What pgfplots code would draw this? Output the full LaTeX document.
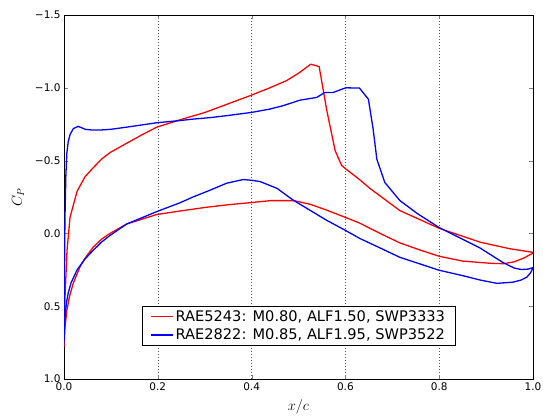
\documentclass[border=0pt]{standalone}
\usepackage{pgfplots}
\pgfplotsset{compat=1.18}
\usepackage{fontspec}
\setmainfont{DejaVu Sans}
\begin{document}
\begin{tikzpicture}
\useasboundingbox (-64pt,-37pt) rectangle (479pt,379pt);
\begin{axis}[
  scale only axis,
  width=469pt, height=364pt,
  xmin=0, xmax=1, ymin=-1.5, ymax=1.0,
  y dir=reverse,
  axis line style={line width=0.8pt},
  xtick={0,0.2,0.4,0.6,0.8,1.0},
  xticklabels={0.0,0.2,0.4,0.6,0.8,1.0},
  ytick={-1.5,-1.0,-0.5,0,0.5,1.0},
  yticklabels={−1.5,−1.0,−0.5,0.0,0.5,1.0},
  tick label style={font=\fontsize{10.5}{12}\selectfont},
  tick align=inside,
  major tick length=4pt,
  xmajorgrids,
  grid style={dash pattern=on 0.7pt off 2.3pt, black!65, line width=0.6pt},
  xlabel={$x/c$},
  ylabel={$C_P$},
  xlabel style={font=\fontsize{14}{16}\selectfont, at={(axis description cs:0.5,-0.077)}, anchor=center},
  ylabel style={font=\fontsize{14}{16}\selectfont, at={(axis description cs:-0.098,0.5)}, anchor=center},
  legend style={at={(axis description cs:0.5,0.093)}, anchor=south, draw=black, fill=white,
    font=\fontsize{14.6}{17}\selectfont, row sep=2pt, inner xsep=8pt, inner ysep=2pt,
    /tikz/every even column/.append style={column sep=9pt}},
  legend cell align=left,
  legend image code/.code={\draw[#1] (0pt,0pt) -- (22pt,0pt);},
]
\addlegendimage{draw=red, line width=1.6pt}
\addlegendentry{RAE5243: M0.80, ALF1.50, SWP3333}
\addlegendimage{draw=blue, line width=1.6pt}
\addlegendentry{RAE2822: M0.85, ALF1.95, SWP3522}
\addplot[red, line width=1.3pt, forget plot] coordinates {
(1.0,0.13) (0.95,0.105) (0.887,0.06) (0.80,-0.035) (0.716,-0.157) (0.652,-0.31) (0.63,-0.37) (0.60,-0.445)
(0.592,-0.466) (0.578,-0.57) (0.56,-0.85) (0.544,-1.146) (0.526,-1.162) (0.50,-1.10) (0.475,-1.05)
(0.439,-1.0) (0.40,-0.95) (0.35,-0.89) (0.30,-0.83) (0.247,-0.78) (0.198,-0.73) (0.165,-0.675)
(0.134,-0.62) (0.098,-0.555) (0.08,-0.51) (0.062,-0.45) (0.045,-0.39) (0.028,-0.29) (0.0128,-0.11)
(0.0064,0.12) (0.002,0.45) (0.0,0.78)
(0.002,0.65) (0.006,0.53) (0.012,0.43) (0.02,0.34) (0.034,0.23) (0.045,0.17) (0.062,0.095)
(0.08,0.04) (0.098,0.0) (0.134,-0.065) (0.198,-0.13) (0.25,-0.155) (0.30,-0.178) (0.35,-0.197)
(0.40,-0.212) (0.44,-0.225) (0.49,-0.225) (0.525,-0.2) (0.56,-0.16) (0.596,-0.115) (0.631,-0.07)
(0.674,0.0) (0.716,0.065) (0.76,0.115) (0.80,0.157) (0.85,0.19) (0.908,0.205) (0.937,0.208)
(0.96,0.195) (0.98,0.17) (1.0,0.135)
};
\addplot[blue, line width=1.3pt, forget plot] coordinates {
(1.0,0.235) (0.99,0.245) (0.975,0.248) (0.96,0.238) (0.936,0.2) (0.887,0.10) (0.80,-0.04) (0.753,-0.137)
(0.716,-0.226) (0.684,-0.35) (0.667,-0.51) (0.659,-0.72) (0.649,-0.922) (0.630,-0.998) (0.603,-1.0)
(0.599,-0.998) (0.574,-0.968) (0.556,-0.968) (0.539,-0.934) (0.503,-0.915) (0.467,-0.877) (0.439,-0.854)
(0.40,-0.831) (0.35,-0.81) (0.311,-0.795) (0.275,-0.785) (0.247,-0.775) (0.198,-0.76) (0.134,-0.73)
(0.10,-0.715) (0.077,-0.71) (0.06,-0.71) (0.045,-0.715) (0.038,-0.725) (0.03,-0.735) (0.02,-0.72)
(0.013,-0.68) (0.009,-0.63) (0.006,-0.55) (0.004,-0.4) (0.002,-0.1) (0.001,0.3) (0.0,0.76)
(0.001,0.66) (0.002,0.58) (0.005,0.48) (0.009,0.41) (0.015,0.34) (0.028,0.25) (0.045,0.175)
(0.062,0.117) (0.08,0.06) (0.098,0.014) (0.134,-0.065) (0.198,-0.15) (0.247,-0.21) (0.275,-0.25)
(0.31,-0.295) (0.347,-0.345) (0.382,-0.37) (0.40,-0.365) (0.418,-0.356) (0.454,-0.31) (0.488,-0.23)
(0.525,-0.158) (0.56,-0.09) (0.596,-0.028) (0.631,0.035) (0.674,0.10) (0.716,0.164) (0.80,0.253)
(0.85,0.29) (0.887,0.32) (0.923,0.343) (0.957,0.335) (0.975,0.32) (0.987,0.3) (0.995,0.27) (1.0,0.235)
};
\end{axis}
\end{tikzpicture}
\end{document}
